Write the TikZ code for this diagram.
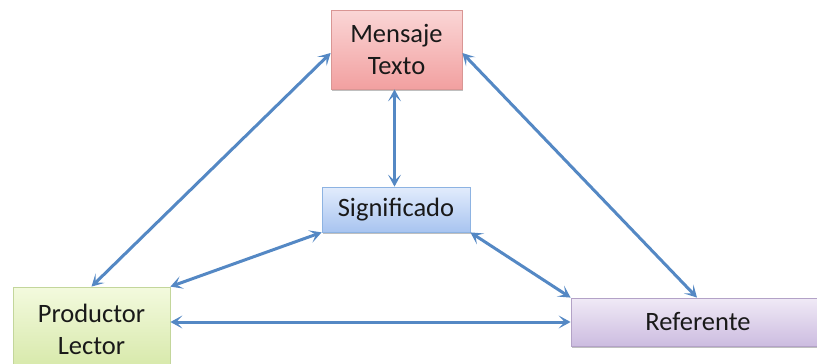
\documentclass[tikz,border=0pt]{standalone}
\usepackage{fontspec}
\setmainfont{Carlito}
\usetikzlibrary{arrows.meta,shadows,calc}
\definecolor{arrowblue}{RGB}{84,136,196}
\tikzset{
  box/.style={rectangle, inner sep=0pt, align=center, text=black!90,
    font=\fontsize{26.5}{32}\selectfont, line width=0.8pt,
    drop shadow={shadow xshift=1.2pt, shadow yshift=-1.5pt, opacity=0.25, fill=black}},
  redbox/.style={box, draw={rgb,255:red,217;green,150;blue,148},
    top color={rgb,255:red,250;green,214;blue,214}, bottom color={rgb,255:red,242;green,160;blue,160}},
  bluebox/.style={box, draw={rgb,255:red,141;green,179;blue,226},
    top color={rgb,255:red,226;green,236;blue,252}, bottom color={rgb,255:red,168;green,196;blue,240}},
  greenbox/.style={box, draw={rgb,255:red,195;green,214;blue,155},
    top color={rgb,255:red,243;green,250;blue,222}, bottom color={rgb,255:red,214;green,232;blue,168}},
  purplebox/.style={box, draw={rgb,255:red,179;green,162;blue,199},
    top color={rgb,255:red,240;green,234;blue,246}, bottom color={rgb,255:red,204;green,188;blue,224}},
  link/.style={draw=arrowblue, line width=3pt,
    {Stealth[length=12pt,width=13pt,inset=6pt]}-{Stealth[length=12pt,width=13pt,inset=6pt]}}
}
\begin{document}
\begin{tikzpicture}[x=1pt,y=-1pt]
\useasboundingbox (0,0) rectangle (817,364);
\node[redbox, minimum width=131pt, minimum height=79pt] (mensaje) at (396.5,49.5) {Mensaje\\Texto};
\node[bluebox, minimum width=148pt, minimum height=45pt] (significado) at (396,209.5) {Significado};
\node[greenbox, minimum width=157pt, minimum height=84pt] (productor) at (91.5,329) {Productor\\Lector};
\node[purplebox, minimum width=274pt, minimum height=48pt] (referente) at (708,322) {\hspace*{-20pt}Referente};
\coordinate (mL) at ([yshift=-3.5pt]mensaje.west);
\coordinate (mR) at ([yshift=-3.5pt]mensaje.east);
\coordinate (mB) at ([xshift=-2pt]mensaje.south);
\coordinate (sT) at (mB |- significado.north);
\coordinate (rT) at ([xshift=-11pt]referente.north);
\coordinate (pR) at (productor.east |- referente.west);
\draw[link] (mL) -- (productor.north);
\draw[link] (mR) -- (rT);
\draw[link] (mB) -- (sT);
\draw[link] (significado.south west) -- (productor.north east);
\draw[link] (significado.south east) -- (referente.north west);
\draw[link] (pR) -- (referente.west);
\end{tikzpicture}
\end{document}
